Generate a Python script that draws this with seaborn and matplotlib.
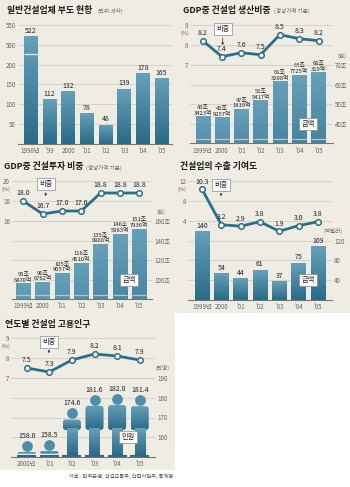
import numpy as np
import matplotlib
matplotlib.use('Agg')
import matplotlib.pyplot as plt
from matplotlib.colors import LinearSegmentedColormap
from matplotlib.patches import FancyBboxPatch, Rectangle
from matplotlib.transforms import IdentityTransform
import seaborn as sns

# Data
failed_years = ['1998년', "'99", '2000', "'01", "'02", "'03", "'04", "'05"]
failed_counts = [522, 112, 132, 78, 48, 139, 178, 165]
failed_ticks = [50, 100, 150, 200, 500, 550]

gdp_years = ['1999년', '2000', "'01", "'02", "'03", "'04", "'05"]
gdp_share = [8.2, 7.4, 7.6, 7.5, 8.5, 8.3, 8.2]
gdp_amount = [43.34, 42.93, 47.18, 51.54, 61.33, 64.77, 66.03]
gdp_labels = ['43조\n3423억', '42조\n9257억', '47조\n1819억', '51조\n5417억',
              '61조\n3298억', '64조\n7725억', '66조\n319억']
gdp_share_ticks = [7, 8, 9]
gdp_amount_ticks = [40, 50, 60, 70]

inv_years = ['1999년', '2000', "'01", "'02", "'03", "'04", "'05"]
inv_share = [18.0, 16.7, 17.0, 17.0, 18.8, 18.8, 18.8]
inv_amount = [95.57, 96.68, 105.91, 116.45, 135.99, 146.60, 151.79]
inv_labels = ['95조\n5670억', '96조\n6762억', '105조\n9057억', '116조\n4510억',
              '135조\n9900억', '146조\n5983억', '151조\n7936억']
inv_share_ticks = [16, 18, 20]
inv_amount_ticks = [100, 120, 140, 160]

exp_years = ['1999년', '2000', "'01", "'02", "'03", "'04", "'05"]
exp_share = [10.3, 3.2, 2.9, 3.8, 1.9, 3.0, 3.8]
exp_amount = [140, 54, 44, 61, 37, 75, 109]
exp_share_ticks = [4, 8, 12]
exp_amount_ticks = [40, 80, 120]

emp_years = ['2000년', "'01", "'02", "'03", "'04", "'05"]
emp_share = [7.5, 7.3, 7.9, 8.2, 8.1, 7.9]
emp_people = [158.0, 158.5, 174.6, 181.6, 182.0, 181.4]
emp_share_ticks = [7, 8, 9]
emp_people_ticks = [160, 170, 180, 190]

FONT = ['Noto Sans CJK KR', 'DejaVu Sans']
W, H = 350, 487
BEIGE = '#efece4'
LINE = '#2c6f8b'
GRID = '#d2cfc4'
TICK = '#666660'
grad = LinearSegmentedColormap.from_list('bar', ['#669fb8', '#2a6b87'])

sns.set_theme(style='white')
plt.rcParams['font.family'] = FONT
plt.rcParams['axes.unicode_minus'] = False

fig = plt.figure(figsize=(W / 100, H / 100), dpi=100, facecolor='white')


def px_axes(left, top, right, bottom, zorder=1):
    ax = fig.add_axes([left / W, 1 - bottom / H, (right - left) / W, (bottom - top) / H], zorder=zorder)
    ax.patch.set_visible(False)
    for s in ax.spines.values():
        s.set_visible(False)
    return ax


# background and overlay share pixel coordinates
bg = px_axes(0, 0, W, H, zorder=0)
bg.set_xlim(0, W)
bg.set_ylim(H, 0)
bg.axis('off')
bg.add_patch(Rectangle((0, 0), 350, 313, color=BEIGE, lw=0))
bg.add_patch(Rectangle((0, 313), 175, 157, color=BEIGE, lw=0))

over = px_axes(0, 0, W, H, zorder=10)
over.set_xlim(0, W)
over.set_ylim(H, 0)
over.axis('off')


def gradient_bars(ax, patches, rounding=0.0):
    # swap plain bars for a top-to-bottom gradient, worked out in screen pixels
    for p in patches:
        ext = p.get_window_extent()
        if ext.width <= 0 or ext.height <= 0:
            continue
        p.set_alpha(0)
        im = ax.imshow(np.linspace(0, 1, 64).reshape(-1, 1), cmap=grad, aspect='auto',
                       extent=(ext.x0, ext.x1, ext.y0, ext.y1), transform=IdentityTransform(),
                       zorder=3, vmin=0, vmax=1)
        if rounding > 0:
            clip = FancyBboxPatch((ext.x0, ext.y0), ext.width, ext.height,
                                  boxstyle=f'round,pad=0,rounding_size={min(rounding, ext.height / 2)}',
                                  transform=IdentityTransform())
            im.set_clip_path(clip)


def style_bar_axis(ax, cats, ticks, tick_labels, c0, step, left, right, ylim, xpad=2.5):
    ax.set_xlim((left - c0) / step, (right - c0) / step)
    ax.set_ylim(*ylim)
    ax.set_xticks(range(len(cats)))
    ax.set_xticklabels(cats)
    ax.set_xlabel('')
    ax.set_ylabel('')
    ax.set_yticks(ticks)
    ax.set_yticklabels(tick_labels)
    ax.yaxis.tick_right()
    ax.tick_params(axis='x', length=0, pad=xpad, labelsize=4.5, labelcolor=TICK)
    ax.tick_params(axis='y', length=0, pad=1.5, labelsize=4.5, labelcolor=TICK)
    ax.grid(axis='y', color=GRID, lw=0.6)
    ax.grid(axis='x', visible=False)
    ax.set_axisbelow(True)
    ax.spines['bottom'].set_visible(True)
    ax.spines['bottom'].set_color('#77776f')
    ax.spines['bottom'].set_linewidth(0.8)


def line_panel(box, ref, ppu, cats, share, ticks, c0, step):
    left, top, right, bottom = box
    ax = px_axes(left, top, right, bottom, zorder=3)
    ref_val, ref_px = ref
    sns.lineplot(x=np.arange(len(cats)), y=share, ax=ax, color=LINE, lw=2.0, marker='o', ms=4,
                 markerfacecolor='white', markeredgecolor=LINE, markeredgewidth=1.1, errorbar=None, clip_on=False)
    ax.set_xlim((left - c0) / step, (right - c0) / step)
    ax.set_ylim(ref_val - (bottom - ref_px) / ppu, ref_val + (ref_px - top) / ppu)
    ax.set_xticks([])
    ax.set_xlabel('')
    ax.set_ylabel('')
    ax.set_yticks(ticks)
    ax.tick_params(axis='y', length=0, pad=1.5, labelsize=4.5, labelcolor=TICK)
    ax.grid(axis='y', color=GRID, lw=0.6)
    ax.grid(axis='x', visible=False)
    ax.set_axisbelow(True)
    for i, v in enumerate(share):
        ax.annotate(f'{v:.1f}', (i, v), xytext=(0, 2.6), textcoords='offset points', ha='center', va='bottom',
                    fontsize=5, color='#222222')
    return ax


def bar_panel(box, cats, vals, labels, base, ppu, ticks, tick_labels, c0, step, width=0.74, size=4.2):
    left, top, right, bottom = box
    ax = px_axes(left, top, right, bottom, zorder=2)
    sns.barplot(x=cats, y=vals, ax=ax, color=LINE, width=width, order=cats)
    style_bar_axis(ax, cats, ticks, tick_labels, c0, step, left, right, (base, base + (bottom - top) / ppu))
    gradient_bars(ax, ax.patches)
    for i, (v, t) in enumerate(zip(vals, labels)):
        ax.annotate(t, (i, v), xytext=(0, 1), textcoords='offset points', ha='center', va='bottom',
                    fontsize=size, color='#222222', linespacing=1.2, zorder=6)
    return ax


def stripe(ax, y, n, width=0.74):
    ax.hlines([y] * n, np.arange(n) - width / 2, np.arange(n) + width / 2, color='#a9cbd8', lw=0.9, zorder=5)


def title(x, y, main, unit=None, unit_x=None):
    over.text(x, y, main, fontsize=6.4, fontweight='bold', color='#1c1c1c', va='center', ha='left')
    if unit:
        over.text(unit_x, y + 0.5, unit, fontsize=4.0, color='#666660', va='center', ha='left')


def small(x, y, s, ha='center'):
    over.text(x, y, s, fontsize=4.0, color=TICK, ha=ha, va='center')


def callout(x, y, s, arrow_to=None):
    over.text(x, y, s, fontsize=5.2, color='#222222', ha='center', va='center', zorder=8,
              bbox=dict(boxstyle='square,pad=0.32', fc='white', ec='#8b8b85', lw=0.5))
    if arrow_to is not None:
        over.annotate('', xy=(x, arrow_to), xytext=(x, y + 6),
                      arrowprops=dict(arrowstyle='-|>', color='#333333', lw=0.5, mutation_scale=3))


# Panel 1: broken axis between 200 and 500
ax1 = px_axes(18, 25, 172, 143.5, zorder=2)
sns.barplot(x=failed_years, y=failed_counts, ax=ax1, color=LINE, width=0.73, order=failed_years)
ax1.set_yscale('function', functions=(lambda v: np.where(np.asarray(v) < 500, np.minimum(v, 250), np.asarray(v) - 250),
                                      lambda u: np.where(np.asarray(u) <= 250, u, np.asarray(u) + 250)))
style_bar_axis(ax1, failed_years, failed_ticks, [str(t) for t in failed_ticks], 30.7, 18.7, 18, 172, (0, 550))
ax1.yaxis.tick_left()
ax1.minorticks_off()
gradient_bars(ax1, ax1.patches)
for i, v in enumerate(failed_counts):
    ax1.annotate(str(v), (i, v), xytext=(0, 0.8), textcoords='offset points', ha='center', va='bottom',
                 fontsize=5, color='#222222')
ax1.hlines(226, -0.365, 0.365, color='#d5e6ec', lw=1, zorder=5)
title(7, 10, '일반건설업체 부도 현황', '(단위:개사)', 97)

# Panel 2
box2 = (190, 24.7, 333, 143.3)
ax2 = bar_panel(box2, gdp_years, gdp_amount, gdp_labels, 30, 1.95, gdp_amount_ticks,
                [f'{t}조' for t in gdp_amount_ticks], 202.7, 19.3)
stripe(ax2, 32, 7)
line_panel(box2, (8, 44.7), 20, gdp_years, gdp_share, gdp_share_ticks, 202.7, 19.3)
title(183, 10, 'GDP중 건설업 생산비중', '(경상가격 기준)', 274)
small(185, 33.5, '(%)')
small(342, 56, '(원)')
callout(222.7, 29, '비중', 48)
callout(308, 124, '금액')

# Panel 3
box3 = (12, 180.7, 152, 299)
ax3 = bar_panel(box3, inv_years, inv_amount, inv_labels, 80, 0.97, inv_amount_ticks,
                [f'{t}조' for t in inv_amount_ticks], 23.3, 19.3)
stripe(ax3, 84, 7)
line_panel(box3, (18, 201), 10, inv_years, inv_share, inv_share_ticks, 23.3, 19.3)
title(4, 167, 'GDP중 건설투자 비중', '(경상가격 기준)', 86)
small(6, 189.5, '(%)')
small(161, 212, '(원)')
callout(45.7, 184, '비중', 199)
callout(129, 280, '금액')

# Panel 4
box4 = (188, 180.7, 332, 299.5)
bar_panel(box4, exp_years, exp_amount, [str(v) for v in exp_amount], 0, 0.49, exp_amount_ticks,
          [str(t) for t in exp_amount_ticks], 202, 19.3, size=5)
line_panel(box4, (4, 220.7), 5, exp_years, exp_share, exp_share_ticks, 202, 19.3)
title(180, 167, '건설업의 수출 기여도')
small(182, 189.5, '(%)')
small(333, 231, '(억달러)')
callout(221, 185, '비중', 199)
callout(308, 280, '금액')

# Panel 5: people instead of bars
box5 = (11, 337.7, 155, 456.7)
ppu5 = 1.96
ax5 = px_axes(*box5, zorder=2)
people = np.array(emp_people)
shoulder = people - 11 / ppu5
torso_low = np.where(shoulder > 163.6, 163.6, 151.6)
legs_top = np.where(shoulder > 163.6, 164.5, 150.1)
sns.barplot(x=emp_years, y=shoulder - torso_low, bottom=torso_low, ax=ax5, color=LINE, width=0.8, order=emp_years)
torso_bars = list(ax5.patches)
sns.barplot(x=emp_years, y=legs_top - 151, bottom=151, ax=ax5, color=LINE, width=0.46, order=emp_years)
leg_bars = list(ax5.patches)[len(torso_bars):]
style_bar_axis(ax5, emp_years, emp_people_ticks, [str(t) for t in emp_people_ticks], 26.7, 22.6, 11, 155,
               (150, 150 + (box5[3] - box5[1]) / ppu5))
gradient_bars(ax5, torso_bars, rounding=3)
gradient_bars(ax5, leg_bars)
ax5.hlines([150.6] * 6, np.arange(6) - 0.42, np.arange(6) + 0.42, color='#2a6b87', lw=1.5, zorder=5)
sns.scatterplot(x=np.arange(6), y=people - 5 / ppu5, ax=ax5, s=60, color='#4f8ea9', linewidth=0, zorder=6, legend=False)
ax5.set_xlabel('')
ax5.set_ylabel('')
for i, v in enumerate(emp_people):
    ax5.annotate(f'{v:.1f}', (i, v), xytext=(0, 0.8), textcoords='offset points', ha='center', va='bottom',
                 fontsize=5, color='#222222', zorder=7)
line_panel(box5, (8, 358), 20, emp_years, emp_share, emp_share_ticks, 26.7, 22.6)
title(5, 324, '연도별 건설업 고용인구')
small(6, 346.5, '(%)')
small(162, 368, '(만명)')
callout(49, 342, '비중', 356)
callout(128, 437, '인원')

over.text(173, 476, '자료 : 한국은행, 건설교통부, 산업자원부, 통계청', fontsize=3.8, color='#555550', ha='right', va='center')

fig.savefig('out.png', dpi=100, facecolor='white')
